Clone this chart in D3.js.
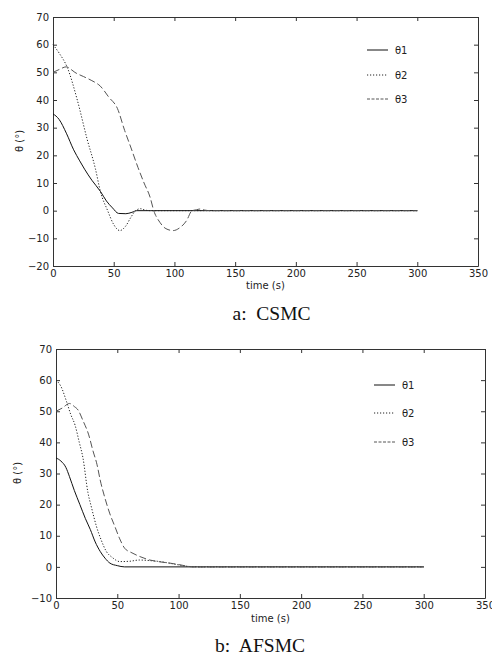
<!DOCTYPE html>
<html>
<head>
<meta charset="utf-8">
<script src="https://cdn.jsdelivr.net/npm/d3@7"></script>
<style>
  body { margin: 0; background: #fff; }
  svg text { font-family: "DejaVu Sans", sans-serif; }
  svg text.caption { font-family: "Liberation Serif", "Times New Roman", serif; }
</style>
</head>
<body>
<div id="chart"></div>
<script>
// tick labels
var xTicks = [0, 50, 100, 150, 200, 250, 300, 350];
var yTicksA = [-20, -10, 0, 10, 20, 30, 40, 50, 60, 70];
var yTicksB = [-10, 0, 10, 20, 30, 40, 50, 60, 70];
var seriesNames = ["θ1", "θ2", "θ3"];

// a: CSMC  [time, angle]
var csmcTheta1 = [[0, 35], [5, 33], [11, 28], [17, 22], [22, 18], [26, 15], [32, 11], [39, 7], [44, 3.5], [49, 1], [54, -1], [60, -1.1], [65, -0.6], [69, 0], [80, 0], [300, 0]];
var csmcTheta2 = [[0, 60], [5, 57], [12, 51.5], [20, 40], [28, 26], [35, 15], [39, 7], [45, 0], [50, -5], [55, -7.2], [60, -5.5], [64, -2.5], [68, 0], [72, 0.7], [76, 0.2], [80, 0], [300, 0]];
var csmcTheta3 = [[0, 50], [5, 51], [11, 52], [15, 51], [18, 50], [25, 48.5], [32, 47], [39, 45], [46, 41], [53, 37], [59, 29], [64, 23], [70, 15.6], [75, 10], [80, 4.8], [83, 0], [88, -4.2], [93, -6.5], [99, -7.2], [104, -6.3], [110, -3.6], [114.5, 0], [118, 0.3], [121, 0.6], [125, 0.2], [130, 0], [300, 0]];

// b: AFSMC
var afsmcTheta1 = [[0, 35], [4, 34], [8, 32], [11, 29], [15, 24.5], [19.5, 20], [24, 15.5], [28, 12], [32, 8], [36, 5], [40, 2.8], [44, 1.2], [50, 0.4], [56, 0], [300, 0]];
var afsmcTheta2 = [[0, 60], [4, 58], [8.7, 53], [12, 49], [15.5, 45.6], [19, 40], [22, 35], [26, 24], [29, 19], [33, 13], [37, 8.5], [41, 5], [46, 3], [52, 1.7], [60, 1.8], [68, 2.2], [77, 2], [85, 1.7], [95, 1], [107, 0.2], [115, 0], [300, 0]];
var afsmcTheta3 = [[0, 50], [5, 51], [11, 52.5], [15, 51.5], [18, 50.4], [22, 47], [26.7, 42.4], [30, 37.5], [33.5, 32.8], [36, 28], [40, 22], [44, 17], [48, 13], [52, 9], [56, 6], [62, 4.5], [68.5, 3.3], [76.6, 2.2], [85, 1.6], [93, 1.2], [102, 0.6], [112, 0], [300, 0]];

var w = 492;
var h = 654;

var lineStyles = [
    { color: "#111", dash: null, legendDash: null },
    { color: "#222", dash: "1.2,1.8", legendDash: "1.2,1.8" },
    { color: "#555", dash: "7,3", legendDash: "3,1.5" }
];

var svg = d3.select("#chart")
    .append("svg")
    .attr("width", w)
    .attr("height", h);

function drawPanel(cfg) {
    var scaleX = d3.scaleLinear().domain([0, 350]).range([cfg.left, cfg.right]);
    var scaleY = d3.scaleLinear().domain(cfg.yDomain).range([cfg.bottom, cfg.top]);

    var g = svg.append("g");

    // bottom + left with labels, ticks pointing inward
    g.append("g")
        .attr("transform", "translate(0," + cfg.bottom + ")")
        .call(d3.axisBottom(scaleX).tickValues(xTicks).tickSize(-4).tickSizeOuter(0).tickPadding(4));
    g.append("g")
        .attr("transform", "translate(" + cfg.left + ",0)")
        .call(d3.axisLeft(scaleY).tickValues(cfg.yTicks).tickSize(-4).tickSizeOuter(0).tickPadding(4));
    // top + right, ticks only
    g.append("g")
        .attr("transform", "translate(0," + cfg.top + ")")
        .call(d3.axisTop(scaleX).tickValues(xTicks).tickSize(-4).tickSizeOuter(0).tickFormat(""));
    g.append("g")
        .attr("transform", "translate(" + cfg.right + ",0)")
        .call(d3.axisRight(scaleY).tickValues(cfg.yTicks).tickSize(-4).tickSizeOuter(0).tickFormat(""));

    g.selectAll(".domain").attr("stroke", "#333");
    g.selectAll(".tick line").attr("stroke", "#333");
    g.selectAll(".tick text").attr("font-size", 10).attr("fill", "#222");

    var line = d3.line()
        .x(function (d) { return scaleX(d[0]); })
        .y(function (d) { return scaleY(d[1]); })
        .curve(d3.curveMonotoneX);

    cfg.series.forEach(function (s, i) {
        g.append("path")
            .datum(s)
            .attr("d", line)
            .attr("fill", "none")
            .attr("stroke", lineStyles[i].color)
            .attr("stroke-width", 1)
            .attr("stroke-dasharray", lineStyles[i].dash);
    });

    // legend
    seriesNames.forEach(function (name, i) {
        var ly = cfg.legendY[i];
        g.append("line")
            .attr("x1", cfg.legendX)
            .attr("x2", cfg.legendX + 21)
            .attr("y1", ly)
            .attr("y2", ly)
            .attr("stroke", lineStyles[i].color)
            .attr("stroke-dasharray", lineStyles[i].legendDash);
        g.append("text")
            .attr("x", cfg.legendX + 28)
            .attr("y", ly + 3.5)
            .attr("font-size", 10)
            .attr("fill", "#222")
            .text(name);
    });

    g.append("text")
        .attr("x", (cfg.left + cfg.right) / 2 + 0)
        .attr("y", cfg.bottom + cfg.xLabelGap)
        .attr("text-anchor", "middle")
        .attr("font-size", 10)
        .attr("fill", "#222")
        .text("time (s)");

    g.append("text")
        .attr("transform", "translate(" + cfg.yLabelX + "," + cfg.yLabelY + ") rotate(-90)")
        .attr("text-anchor", "middle")
        .attr("font-size", 10)
        .attr("fill", "#222")
        .text("θ (°)");

    g.append("text")
        .attr("class", "caption")
        .attr("x", cfg.captionX)
        .attr("y", cfg.captionY)
        .attr("text-anchor", "middle")
        .attr("font-size", 19.5)
        .attr("fill", "#111")
        .style("white-space", "pre")
        .text(cfg.caption);
}

drawPanel({
    left: 53, right: 478, top: 17, bottom: 266,
    yDomain: [-20, 70], yTicks: yTicksA,
    series: [csmcTheta1, csmcTheta2, csmcTheta3],
    legendX: 367, legendY: [50, 75, 99],
    xLabelGap: 23, yLabelX: 23, yLabelY: 141,
    caption: "a:  CSMC", captionX: 271.5, captionY: 320
});

drawPanel({
    left: 56, right: 485, top: 349, bottom: 598,
    yDomain: [-10, 70], yTicks: yTicksB,
    series: [afsmcTheta1, afsmcTheta2, afsmcTheta3],
    legendX: 374, legendY: [385, 413, 442],
    xLabelGap: 24, yLabelX: 21, yLabelY: 473,
    caption: "b:  AFSMC", captionX: 260, captionY: 651.5
});
</script>
</body>
</html>
